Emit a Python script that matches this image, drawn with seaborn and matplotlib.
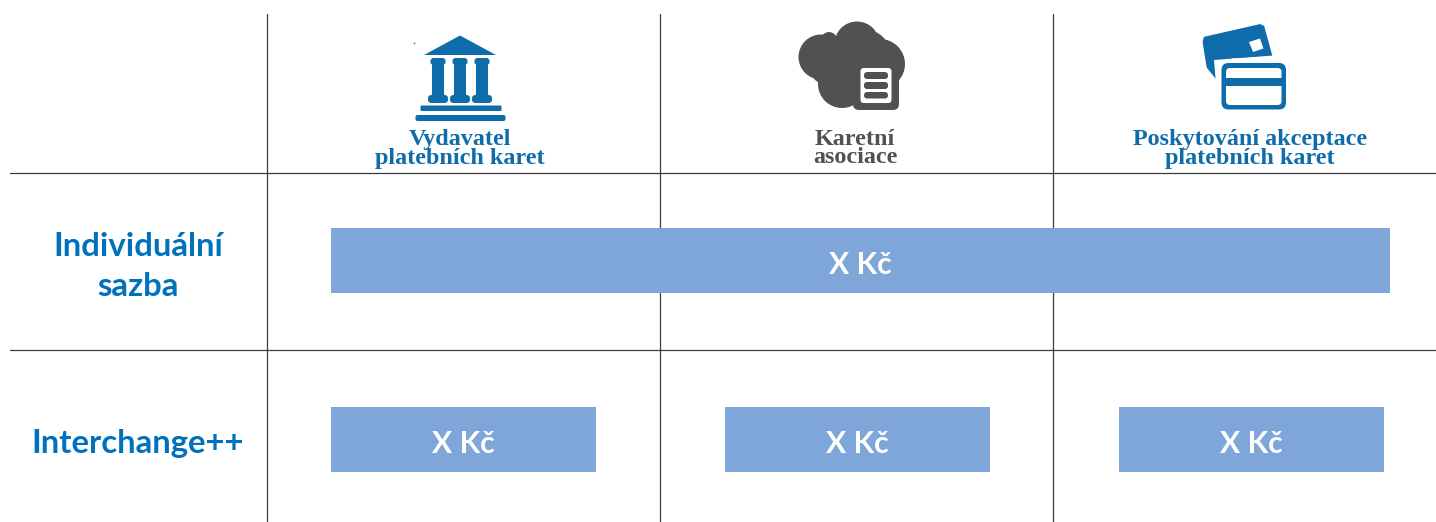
import pandas as pd
import seaborn as sns
import matplotlib
matplotlib.use("Agg")
import matplotlib.pyplot as plt
from matplotlib.patches import Circle, Polygon, FancyBboxPatch, Rectangle

W, H = 1436, 522

# table grid
col_lines = [267, 660, 1053]
row_lines = [172.5, 350]

# bars
bar_left = [331, 331, 725, 1119]
bar_width = [1059, 265, 265, 265]
bar_y = [260.5, 439.5, 439.5, 439.5]
bar_labels = ["X Kč", "X Kč", "X Kč", "X Kč"]

# header and row texts
header_labels = ["Vydavatel\nplatebních karet", "Karetní\nasociace", "Poskytování akceptace\nplatebních karet"]
header_x = [460, 855, 1250]
header_y = [149, 148.5, 149]
header_spacing = [0.92, 0.8, 0.92]
row_labels = ["Individuální\nsazba", "Interchange++"]
row_y = [266.5, 443]

BLUE = "#0f6cab"
GRAY = "#4f5152"
LABEL_BLUE = "#0071bc"
BAR = "#7fa6d8"
LINE = "#3a3a3a"

sns.set_theme(style="white")

fig = plt.figure(figsize=(W / 100, H / 100), dpi=100)
ax = fig.add_axes([0, 0, 1, 1])

for i in range(len(bar_left)):
    sns.barplot(x=[bar_width[i]], y=[bar_y[i]], orient="y", native_scale=True, linewidth=0,
                width=65, left=bar_left[i], color=BAR, saturation=1, ax=ax, zorder=3)

ax.set_xlim(0, W)
ax.set_ylim(H, 0)
ax.axis("off")

for x in col_lines:
    ax.plot([x, x], [14, H], color=LINE, lw=0.9, zorder=1)
for y in row_lines:
    ax.plot([10, W], [y, y], color=LINE, lw=0.9, zorder=1)

for i in range(len(bar_left)):
    ax.text(bar_left[i] + bar_width[i] / 2, bar_y[i] + 4.5, bar_labels[i], color="white",
            family="Lato", weight="bold", fontsize=21.7, ha="center", va="center", zorder=4)

for y, lab in zip(row_y, row_labels):
    ax.text(138, y, lab, color=LABEL_BLUE, family="Lato", weight="bold", fontsize=23.7,
            ha="center", va="center", linespacing=1.43)

for i, (x, lab) in enumerate(zip(header_x, header_labels)):
    ax.text(x, header_y[i], lab, color=GRAY if i == 1 else BLUE, family="Liberation Serif", weight="bold",
            fontsize=17.4, ha="center", va="center", linespacing=header_spacing[i])


def rbox(x0, y0, x1, y1, r, color, z=5):
    ax.add_patch(FancyBboxPatch((x0 + r, y0 + r), x1 - x0 - 2 * r, y1 - y0 - 2 * r,
                                boxstyle=f"round,pad={r},rounding_size={r}", fc=color, ec="none", zorder=z))


# bank icon
ax.add_patch(Polygon([(460, 35.5), (496, 55), (424, 55)], fc=BLUE, ec="none", zorder=5))
for cx in [438, 460, 482]:
    rbox(cx - 7.5, 58, cx + 7.5, 65, 3, BLUE)
    ax.add_patch(Rectangle((cx - 6, 65), 12, 30, fc=BLUE, ec="none", zorder=5))
    rbox(cx - 10, 95, cx + 10, 103, 3.5, BLUE)
rbox(420.5, 105.5, 501.5, 111, 1, BLUE)
rbox(415.5, 115, 505.5, 121, 2, BLUE)
ax.add_patch(Circle((414.5, 43.5), 1, fc="#5b9bc8", ec="none", zorder=5))

# cloud icon
for cx, cy, r in [(821, 57, 22.5), (829, 40, 8), (857, 44, 22.5), (880, 64, 25), (842, 84, 24),
                  (825, 70, 14), (866, 54, 24), (845, 55, 20)]:
    ax.add_patch(Circle((cx, cy), r, fc=GRAY, ec="none", zorder=5))
rbox(853, 62, 899, 110, 6, GRAY, z=6)
rbox(860.5, 68, 891.5, 103, 3, "white", z=7)
for y0, y1 in [(72, 79), (82, 89), (92, 98.5)]:
    rbox(864, y0, 888, y1, 3, GRAY, z=8)

# card icon
ax.add_patch(Polygon([(1205, 38), (1260, 25.5), (1263, 27), (1271, 56), (1232, 57), (1224, 62),
                      (1219, 70), (1216, 77), (1208, 67), (1204, 42)], fc=BLUE, ec=BLUE, lw=2,
                     joinstyle="round", zorder=5))
ax.add_patch(Polygon([(1249, 42), (1260, 38.5), (1263.5, 48.5), (1253, 52)], fc="white", ec="none", zorder=6))
ax.add_patch(Polygon([(1216, 84), (1214, 60), (1280, 55), (1290, 62), (1230, 60)], fc="white", ec="none", zorder=5.5))
rbox(1221.5, 63, 1286, 109.5, 7, BLUE, z=6)
rbox(1226, 68, 1281.5, 105, 4, "white", z=7)
ax.add_patch(Rectangle((1226, 77.5), 55.5, 8.5, fc=BLUE, ec="none", zorder=8))

fig.savefig("out.png", dpi=100, facecolor="white")
